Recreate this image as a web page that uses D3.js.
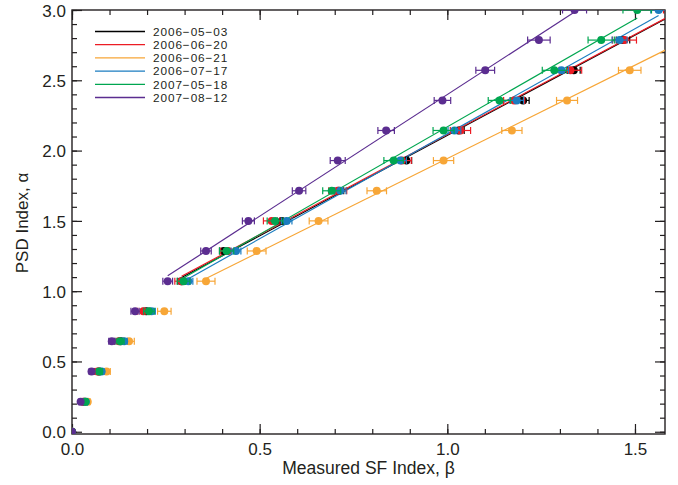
<!DOCTYPE html>
<html>
<head>
<meta charset="utf-8">
<script src="https://cdn.jsdelivr.net/npm/d3@7"></script>
<style>
  body { margin: 0; background: #fff; }
  text { font-family: "Liberation Sans", Arial, Helvetica, sans-serif; fill: #231f20; }
</style>
</head>
<body>
<svg id="chart" width="678" height="485"></svg>
<script>
// PSD index levels (alpha) at which the structure-function index (beta) was measured
const alphaLevels = [0.000, 0.214, 0.429, 0.643, 0.857, 1.071, 1.286, 1.500,
                     1.714, 1.929, 2.143, 2.357, 2.571, 2.786, 3.000];

const seriesNames = ["2006\u221205\u221203", "2006\u221206\u221220", "2006\u221206\u221221",
                     "2006\u221207\u221217", "2007\u221205\u221218", "2007\u221208\u221212"];
const seriesColors = ["#000000", "#ec1c24", "#f7a637", "#1b7dc0", "#00a650", "#5b2d90"];

// measured beta for each alpha level
const beta_20060503 = [0, 0.033, 0.072, 0.130, 0.198, 0.292, 0.404, 0.559, 0.711, 0.891, 1.030, 1.202, 1.337, 1.468, 1.600];
const beta_20060620 = [0, 0.030, 0.068, 0.125, 0.190, 0.292, 0.416, 0.532, 0.708, 0.879, 1.035, 1.178, 1.328, 1.472, 1.610];
const beta_20060621 = [0, 0.042, 0.092, 0.152, 0.246, 0.357, 0.492, 0.657, 0.812, 0.990, 1.172, 1.319, 1.486, 1.635, 1.775];
const beta_20060717 = [0, 0.037, 0.079, 0.139, 0.212, 0.310, 0.437, 0.572, 0.715, 0.875, 1.019, 1.185, 1.304, 1.459, 1.563];
const beta_20070518 = [0, 0.036, 0.073, 0.128, 0.205, 0.297, 0.412, 0.541, 0.692, 0.857, 0.990, 1.139, 1.285, 1.410, 1.506];
const beta_20070812 = [0, 0.023, 0.052, 0.106, 0.168, 0.255, 0.357, 0.470, 0.605, 0.708, 0.837, 0.987, 1.101, 1.244, 1.339];

// one-sigma uncertainty on beta
const err_20060503 = [0, 0.003, 0.005, 0.007, 0.009, 0.010, 0.011, 0.012, 0.013, 0.014, 0.015, 0.016, 0.017, 0.018, 0.019];
const err_20060620 = [0, 0.005, 0.008, 0.012, 0.015, 0.018, 0.020, 0.022, 0.024, 0.025, 0.027, 0.028, 0.030, 0.032, 0.034];
const err_20060621 = [0, 0.006, 0.010, 0.014, 0.018, 0.024, 0.025, 0.025, 0.026, 0.027, 0.027, 0.028, 0.030, 0.032, 0.034];
const err_20060717 = [0, 0.004, 0.006, 0.008, 0.010, 0.012, 0.013, 0.014, 0.015, 0.016, 0.017, 0.018, 0.019, 0.020, 0.021];
const err_20070518 = [0, 0.005, 0.008, 0.011, 0.014, 0.017, 0.019, 0.021, 0.024, 0.026, 0.028, 0.030, 0.032, 0.035, 0.038];
const err_20070812 = [0, 0.004, 0.006, 0.008, 0.011, 0.013, 0.014, 0.016, 0.018, 0.020, 0.022, 0.022, 0.025, 0.030, 0.032];

const betaSets = [beta_20060503, beta_20060620, beta_20060621, beta_20060717, beta_20070518, beta_20070812];
const errSets  = [err_20060503, err_20060620, err_20060621, err_20060717, err_20070518, err_20070812];

// linear fits use the levels from this index upward
const fitStart = 5;

const xMajor = [0, 0.5, 1.0, 1.5];
const yMajor = [0, 0.5, 1.0, 1.5, 2.0, 2.5, 3.0];

const series = seriesNames.map((name, i) => ({
  name, color: seriesColors[i],
  points: alphaLevels.map((a, k) => ({ alpha: a, beta: betaSets[i][k], err: errSets[i][k] }))
}));

const svg = d3.select("#chart");
const L = 72, R = 665, T = 10, B = 434;
const x = d3.scaleLinear().domain([0, 1.58]).range([L, R]);
const y = d3.scaleLinear().domain([-0.016, 3.0]).range([B, T]);

const axisColor = "#231f20";

svg.append("clipPath").attr("id", "plotClip")
  .append("rect").attr("x", L).attr("y", T).attr("width", R - L).attr("height", B - T);

// minor / major ticks on all four sides, pointing inward
const xMinor = d3.range(0, 1.581, 0.1);
const yMinor = d3.range(0, 3.001, 0.1);
function drawAxis(gen, tr, vals, size, labels) {
  const g = svg.append("g").attr("transform", tr)
    .call(gen.tickValues(vals).tickSize(size).tickSizeOuter(0).tickFormat(labels ? d3.format(".1f") : ""));
  g.select(".domain").remove();
  g.selectAll(".tick line").attr("stroke", axisColor).attr("stroke-width", 1.2);
  return g;
}
drawAxis(d3.axisBottom(x), `translate(0,${B})`, xMinor, -5, false);
drawAxis(d3.axisTop(x), `translate(0,${T})`, xMinor, -5, false);
drawAxis(d3.axisLeft(y), `translate(${L},0)`, yMinor, -5, false);
drawAxis(d3.axisRight(y), `translate(${R},0)`, yMinor, -5, false);
drawAxis(d3.axisTop(x), `translate(0,${T})`, xMajor, -10, false);
drawAxis(d3.axisRight(y), `translate(${R},0)`, yMajor, -10, false);

const xb = drawAxis(d3.axisBottom(x), `translate(0,${B})`, xMajor, -10, true);
xb.selectAll(".tick text").attr("y", 9).attr("dy", "0.71em").attr("font-size", 17).attr("fill", axisColor);
const yl = drawAxis(d3.axisLeft(y), `translate(${L},0)`, yMajor, -10, true);
yl.selectAll(".tick text").attr("x", -6).attr("dy", "0.36em").attr("font-size", 17).attr("fill", axisColor);

// frame
svg.append("rect").attr("x", L).attr("y", T).attr("width", R - L).attr("height", B - T)
  .attr("fill", "none").attr("stroke", axisColor).attr("stroke-width", 1.4);

// axis titles
svg.append("text").attr("x", (L + R) / 2).attr("y", 474).attr("text-anchor", "middle")
  .attr("font-size", 17.5).text("Measured SF Index, \u03B2");
svg.append("text").attr("transform", `translate(28,${(T + B) / 2 + 1}) rotate(-90)`)
  .attr("text-anchor", "middle").attr("font-size", 17).text("PSD Index, \u03B1");

const plot = svg.append("g").attr("clip-path", "url(#plotClip)");

// least-squares fit alpha = a + b*beta over the upper levels
series.forEach(s => {
  const pts = s.points.slice(fitStart);
  const mx = d3.mean(pts, p => p.beta), my = d3.mean(pts, p => p.alpha);
  const b = d3.sum(pts, p => (p.beta - mx) * (p.alpha - my)) / d3.sum(pts, p => (p.beta - mx) ** 2);
  const a = my - b * mx;
  const [b0, b1] = d3.extent(pts, p => p.beta);
  s.fit = [[b0, a + b * b0], [b1, a + b * b1]];
});

series.forEach(s => {
  plot.append("line")
    .attr("x1", x(s.fit[0][0])).attr("y1", y(s.fit[0][1]))
    .attr("x2", x(s.fit[1][0])).attr("y2", y(s.fit[1][1]))
    .attr("stroke", s.color).attr("stroke-width", 1.2);
});

series.forEach(s => {
  const g = plot.append("g");
  s.points.forEach(p => {
    const cy = y(p.alpha), x0 = x(p.beta - p.err), x1 = x(p.beta + p.err);
    if (p.err > 0) {
      g.append("line").attr("x1", x0).attr("x2", x1).attr("y1", cy).attr("y2", cy)
        .attr("stroke", s.color).attr("stroke-width", 1.2);
      [x0, x1].forEach(cx => g.append("line").attr("x1", cx).attr("x2", cx)
        .attr("y1", cy - 3.5).attr("y2", cy + 3.5).attr("stroke", s.color).attr("stroke-width", 1.2));
    }
    g.append("circle").attr("cx", x(p.beta)).attr("cy", cy).attr("r", 4).attr("fill", s.color);
  });
});

// legend
const leg = svg.append("g");
series.forEach((s, i) => {
  const ly = 31.5 + 13.2 * i;
  leg.append("line").attr("x1", 95).attr("x2", 145).attr("y1", ly).attr("y2", ly)
    .attr("stroke", s.color).attr("stroke-width", 1.3);
  leg.append("text").attr("x", 153).attr("y", ly).attr("dy", "0.36em")
    .attr("font-size", 11.8).attr("letter-spacing", 0.9).text(s.name);
});
</script>
</body>
</html>
